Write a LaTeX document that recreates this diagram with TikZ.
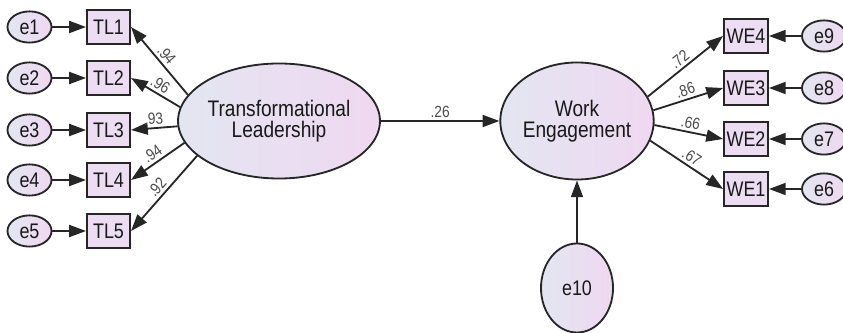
\documentclass[tikz,border=0pt]{standalone}
\usepackage{fontspec}
\setmainfont{Liberation Sans}[FakeStretch=0.85]
\usetikzlibrary{arrows.meta,shapes.geometric}
\definecolor{lineGray}{HTML}{262626}
\definecolor{fillBlue}{HTML}{E3E6F1}
\definecolor{fillPink}{HTML}{EFD8F1}
\definecolor{boxFill}{HTML}{ECDDF2}
\definecolor{coefGray}{HTML}{4A4A4A}

\begin{document}
\begin{tikzpicture}[x=0.025cm, y=-0.025cm, >={Triangle[length=0.42cm, width=0.3cm]},
	every node/.style={font=\fontsize{15}{16}\selectfont, text=black!90},
	latent/.style={ellipse, draw=lineGray, line width=1.3pt, left color=fillBlue, right color=fillPink, inner sep=0pt, align=center, font=\fontsize{16}{15}\selectfont},
	errvar/.style={ellipse, draw=lineGray, line width=1.3pt, left color=fillBlue, right color=fillPink, inner sep=0pt, minimum width=1.1cm, minimum height=0.78cm},
	indicator/.style={rectangle, draw=lineGray, line width=1.3pt, fill=boxFill, inner sep=0pt, minimum width=1.08cm, minimum height=0.87cm},
	coef/.style={font=\fontsize{11.5}{12}\selectfont, text=coefGray, sloped, above, pos=0.5, inner sep=2pt},
	link/.style={->, line width=1.3pt, draw=lineGray}]
	\useasboundingbox (0,0) rectangle (843,333);
	% latent variables
	\node[latent, minimum width=4.6cm, minimum height=2.875cm] (TLead) at (279,121) {Transformational\\Leadership};
	\node[latent, minimum width=3.675cm, minimum height=2.925cm] (WEng) at (577,121) {Work\\Engagement};
	\node[latent, minimum width=1.8cm, minimum height=2.225cm, font=\fontsize{15}{16}\selectfont] (e10) at (577,288) {e10};
	% left indicators
	\node[indicator] (TL1) at (108.5,27) {TL1};
	\node[indicator] (TL2) at (108.5,78) {TL2};
	\node[indicator] (TL3) at (108.5,130) {TL3};
	\node[indicator] (TL4) at (108.5,180) {TL4};
	\node[indicator] (TL5) at (108.5,231) {TL5};
	\node[errvar] (e1) at (29.5,27) {e1};
	\node[errvar] (e2) at (29.5,78) {e2};
	\node[errvar] (e3) at (29.5,130) {e3};
	\node[errvar] (e4) at (29.5,180) {e4};
	\node[errvar] (e5) at (29.5,231) {e5};
	% right indicators
	\node[indicator, minimum width=1.1cm] (WE4) at (746,36) {WE4};
	\node[indicator, minimum width=1.1cm] (WE3) at (746,88) {WE3};
	\node[indicator, minimum width=1.1cm] (WE2) at (746,139) {WE2};
	\node[indicator, minimum width=1.1cm] (WE1) at (746,189) {WE1};
	\node[errvar] (e9) at (824,36) {e9};
	\node[errvar] (e8) at (824,88) {e8};
	\node[errvar] (e7) at (824,139) {e7};
	\node[errvar] (e6) at (824,189) {e6};
	% error terms
	\draw[link] (e1) -- (TL1);
	\draw[link] (e2) -- (TL2);
	\draw[link] (e3) -- (TL3);
	\draw[link] (e4) -- (TL4);
	\draw[link] (e5) -- (TL5);
	\draw[link] (e9) -- (WE4);
	\draw[link] (e8) -- (WE3);
	\draw[link] (e7) -- (WE2);
	\draw[link] (e6) -- (WE1);
	\draw[link] (e10) -- (WEng);
	% loadings
	\draw[link] (TLead.164) -- node[coef] {.94} (TL1.east);
	\draw[link] (TLead.172) -- node[coef] {.96} (TL2.east);
	\draw[link] (TLead.183) -- node[coef] {.93} (TL3.east);
	\draw[link] (TLead.193) -- node[coef] {.94} (TL4.east);
	\draw[link] (TLead.203) -- node[coef] {.92} (TL5.east);
	\draw[link] (WEng.19) -- node[coef] {.72} (WE4.west);
	\draw[link] (WEng.8) -- node[coef] {.86} (WE3.west);
	\draw[link] (WEng.-3) -- node[coef] {.66} (WE2.west);
	\draw[link] (WEng.-15) -- node[coef] {.67} (WE1.west);
	% structural path
	\draw[link] (TLead) -- node[coef] {.26} (WEng);
\end{tikzpicture}
\end{document}
